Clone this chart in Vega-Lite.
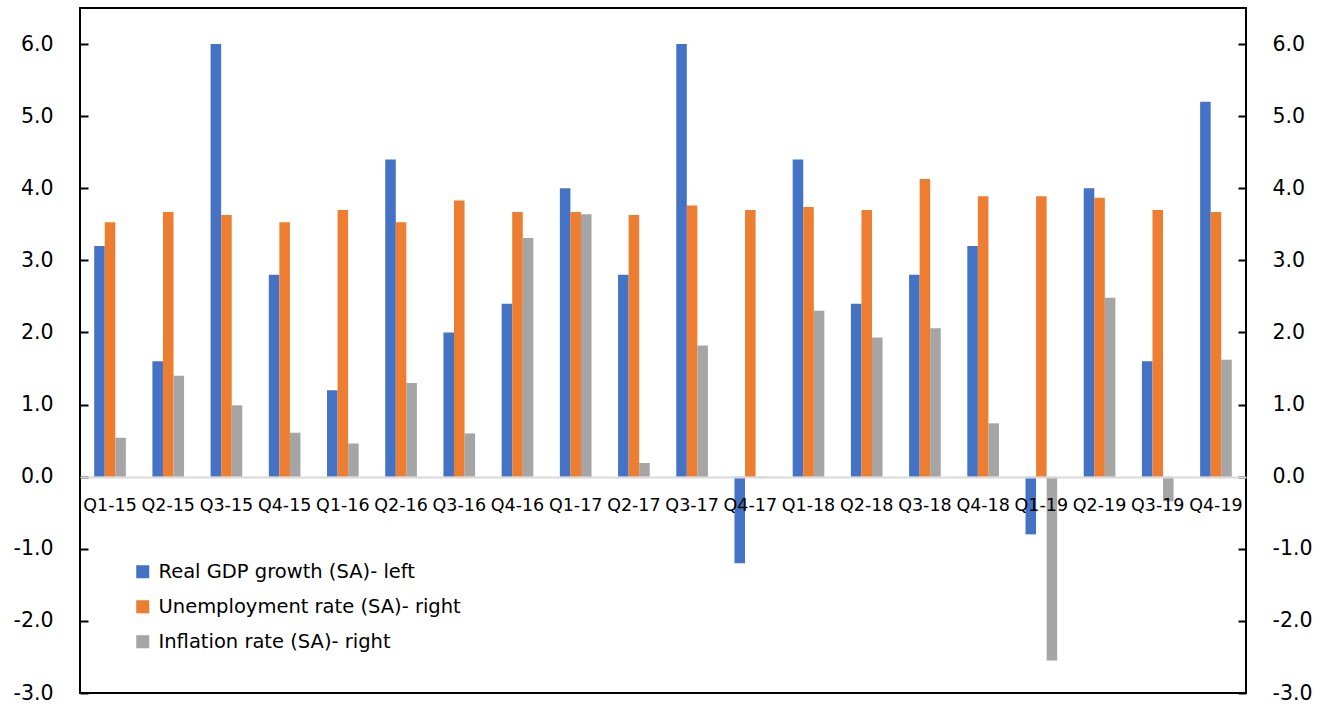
{
  "$schema": "https://vega.github.io/schema/vega-lite/v6.json",
  "width": 1166,
  "height": 685,
  "autosize": {"type": "none"},
  "padding": {"left": 80, "top": 8, "right": 88, "bottom": 16},
  "background": "white",
  "config": {
    "view": {"stroke": "#000000", "strokeWidth": 2},
    "font": "DejaVu Sans",
    "axis": {"labelFont": "DejaVu Sans", "labelColor": "#000000"},
    "legend": {"labelFont": "DejaVu Sans"}
  },
  "data": {
    "values": [
      {"q": "Q1-15", "Real GDP growth (SA)- left": 3.2, "Unemployment rate (SA)- right": 3.53, "Inflation rate (SA)- right": 0.54},
      {"q": "Q2-15", "Real GDP growth (SA)- left": 1.6, "Unemployment rate (SA)- right": 3.67, "Inflation rate (SA)- right": 1.40},
      {"q": "Q3-15", "Real GDP growth (SA)- left": 6.0, "Unemployment rate (SA)- right": 3.63, "Inflation rate (SA)- right": 0.99},
      {"q": "Q4-15", "Real GDP growth (SA)- left": 2.8, "Unemployment rate (SA)- right": 3.53, "Inflation rate (SA)- right": 0.61},
      {"q": "Q1-16", "Real GDP growth (SA)- left": 1.2, "Unemployment rate (SA)- right": 3.70, "Inflation rate (SA)- right": 0.46},
      {"q": "Q2-16", "Real GDP growth (SA)- left": 4.4, "Unemployment rate (SA)- right": 3.53, "Inflation rate (SA)- right": 1.30},
      {"q": "Q3-16", "Real GDP growth (SA)- left": 2.0, "Unemployment rate (SA)- right": 3.83, "Inflation rate (SA)- right": 0.60},
      {"q": "Q4-16", "Real GDP growth (SA)- left": 2.4, "Unemployment rate (SA)- right": 3.67, "Inflation rate (SA)- right": 3.31},
      {"q": "Q1-17", "Real GDP growth (SA)- left": 4.0, "Unemployment rate (SA)- right": 3.67, "Inflation rate (SA)- right": 3.64},
      {"q": "Q2-17", "Real GDP growth (SA)- left": 2.8, "Unemployment rate (SA)- right": 3.63, "Inflation rate (SA)- right": 0.19},
      {"q": "Q3-17", "Real GDP growth (SA)- left": 6.0, "Unemployment rate (SA)- right": 3.76, "Inflation rate (SA)- right": 1.82},
      {"q": "Q4-17", "Real GDP growth (SA)- left": -1.2, "Unemployment rate (SA)- right": 3.70, "Inflation rate (SA)- right": -0.02},
      {"q": "Q1-18", "Real GDP growth (SA)- left": 4.4, "Unemployment rate (SA)- right": 3.74, "Inflation rate (SA)- right": 2.30},
      {"q": "Q2-18", "Real GDP growth (SA)- left": 2.4, "Unemployment rate (SA)- right": 3.70, "Inflation rate (SA)- right": 1.93},
      {"q": "Q3-18", "Real GDP growth (SA)- left": 2.8, "Unemployment rate (SA)- right": 4.13, "Inflation rate (SA)- right": 2.06},
      {"q": "Q4-18", "Real GDP growth (SA)- left": 3.2, "Unemployment rate (SA)- right": 3.89, "Inflation rate (SA)- right": 0.74},
      {"q": "Q1-19", "Real GDP growth (SA)- left": -0.8, "Unemployment rate (SA)- right": 3.89, "Inflation rate (SA)- right": -2.55},
      {"q": "Q2-19", "Real GDP growth (SA)- left": 4.0, "Unemployment rate (SA)- right": 3.87, "Inflation rate (SA)- right": 2.48},
      {"q": "Q3-19", "Real GDP growth (SA)- left": 1.6, "Unemployment rate (SA)- right": 3.70, "Inflation rate (SA)- right": -0.34},
      {"q": "Q4-19", "Real GDP growth (SA)- left": 5.2, "Unemployment rate (SA)- right": 3.67, "Inflation rate (SA)- right": 1.62}
    ]
  },
  "transform": [
    {"fold": ["Real GDP growth (SA)- left", "Unemployment rate (SA)- right", "Inflation rate (SA)- right"], "as": ["series", "value"]}
  ],
  "encoding": {
    "x": {
      "field": "q", "type": "nominal", "sort": null,
      "scale": {"paddingInner": 0.456, "paddingOuter": 0.244},
      "axis": {
        "title": null, "orient": "bottom", "offset": -216, "zindex": 1,
        "domainColor": "#D9D9D9", "domainWidth": 2, "ticks": false,
        "labelAngle": 0, "labelFontSize": 17.5, "labelPadding": 19,
        "labelColor": "#000000"
      }
    }
  },
  "layer": [
    {
      "mark": {"type": "bar"},
      "encoding": {
        "y": {
          "field": "value", "type": "quantitative",
          "scale": {"domain": [-3, 6.5], "nice": false, "zero": false},
          "axis": {
            "title": null, "orient": "left", "values": [-3, -2, -1, 0, 1, 2, 3, 4, 5, 6],
            "labelExpr": "datum.value < 0 ? '-' + format(-datum.value, '.1f') : format(datum.value, '.1f')",
            "grid": false, "domain": false, "ticks": false,
            "labelFontSize": 20.5, "labelPadding": 27
          }
        },
        "xOffset": {"field": "series", "type": "nominal", "scale": {"domain": ["Real GDP growth (SA)- left", "Unemployment rate (SA)- right", "Inflation rate (SA)- right"]}},
        "color": {
          "field": "series", "type": "nominal",
          "scale": {
            "domain": ["Real GDP growth (SA)- left", "Unemployment rate (SA)- right", "Inflation rate (SA)- right"],
            "range": ["#4472C4", "#ED7D31", "#A5A5A5"]
          },
          "legend": {
            "title": null, "orient": "none", "legendX": 53, "legendY": 554,
            "symbolType": "square", "symbolSize": 170, "symbolStrokeWidth": 0,
            "labelFontSize": 19.5, "labelLimit": 600, "rowPadding": 14, "labelOffset": 6, "labelColor": "#000000"
          }
        }
      }
    },
    {
      "mark": {"type": "bar", "opacity": 0},
      "encoding": {
        "y": {
          "field": "value", "type": "quantitative",
          "scale": {"domain": [-3, 6.5], "nice": false, "zero": false},
          "axis": {
            "title": null, "orient": "right", "values": [-3, -2, -1, 0, 1, 2, 3, 4, 5, 6],
            "labelExpr": "datum.value < 0 ? '-' + format(-datum.value, '.1f') : format(datum.value, '.1f')",
            "grid": false, "domain": false, "ticks": false,
            "labelFontSize": 20.5, "labelPadding": 26
          }
        }
      }
    },
    {
      "mark": {"type": "bar", "opacity": 0},
      "encoding": {
        "y": {
          "field": "value", "type": "quantitative",
          "scale": {"domain": [-3, 6.5], "nice": false, "zero": false},
          "axis": {
            "title": null, "orient": "right", "offset": -1166, "values": [-3, -2, -1, 0, 1, 2, 3, 4, 5, 6],
            "grid": false, "domain": false, "labels": false,
            "tickSize": 8, "tickColor": "#000000", "tickWidth": 2
          }
        }
      }
    },
    {
      "mark": {"type": "bar", "opacity": 0},
      "encoding": {
        "y": {
          "field": "value", "type": "quantitative",
          "scale": {"domain": [-3, 6.5], "nice": false, "zero": false},
          "axis": {
            "title": null, "orient": "left", "offset": -1166, "values": [-3, -2, -1, 0, 1, 2, 3, 4, 5, 6],
            "grid": false, "domain": false, "labels": false,
            "tickSize": 8, "tickColor": "#000000", "tickWidth": 2
          }
        }
      }
    }
  ],
  "resolve": {"scale": {"y": "independent"}}
}
